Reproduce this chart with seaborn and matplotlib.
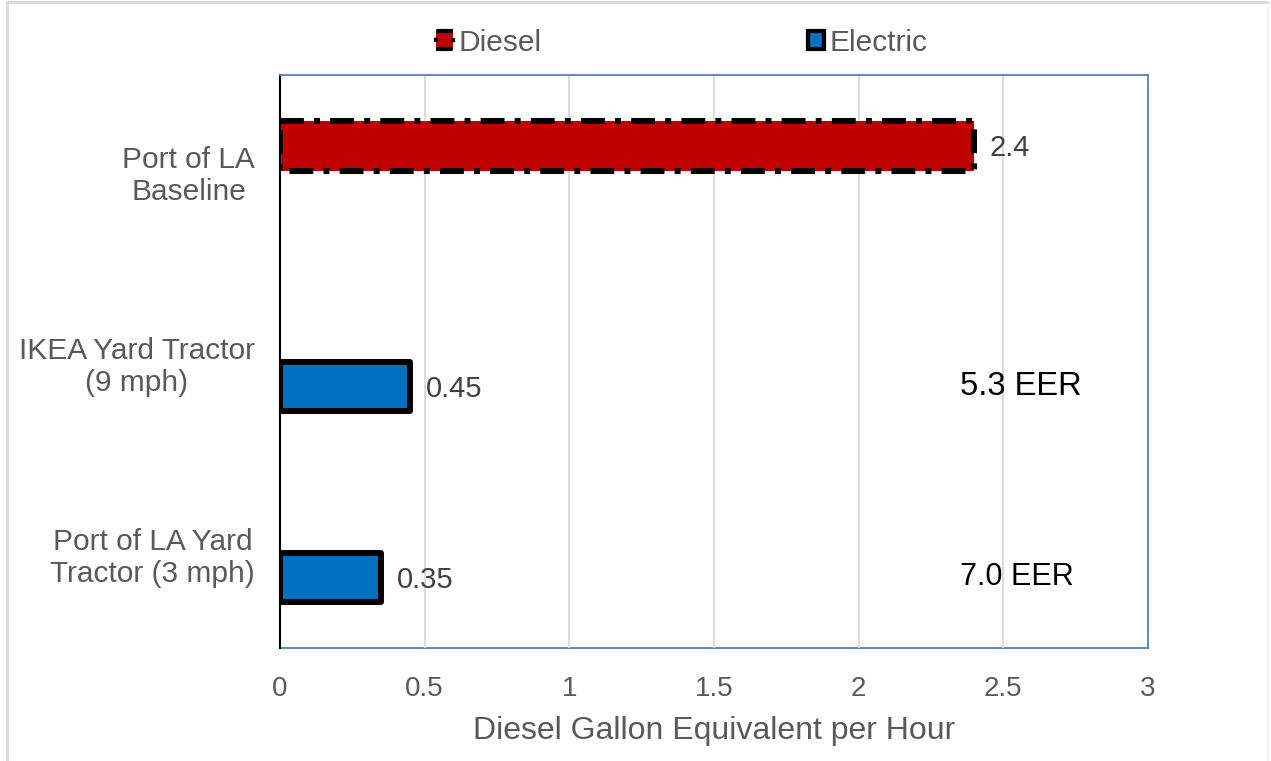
import matplotlib
matplotlib.use("Agg")
import matplotlib.pyplot as plt
import seaborn as sns
import pandas as pd
from matplotlib.patches import Patch
from matplotlib.lines import Line2D

categories = ["Port of LA\nBaseline", "IKEA Yard Tractor\n(9 mph)", "Port of LA Yard\nTractor (3 mph)"]
series = ["Diesel", "Electric", "Electric"]
values = [2.4, 0.45, 0.35]
eer_labels = ["", "5.3 EER", "7.0 EER"]
eer_sizes = [0, 23.5, 22.0]
xticks = [0, 0.5, 1, 1.5, 2, 2.5, 3]
xtick_labels = ["0", "0.5", "1", "1.5", "2", "2.5", "3"]
x_title = "Diesel Gallon Equivalent per Hour"

RED = "#C00000"
BLUE = "#0070C0"
GRAY = "#595959"

sns.set_theme(style="white")
plt.rcParams["font.family"] = ["Liberation Sans", "DejaVu Sans"]

df = pd.DataFrame({"cat": categories, "series": series, "val": values})

fig = plt.figure(figsize=(12.71, 7.61), dpi=100)
ax = fig.add_axes([280/1271, 1-648/761, (1148-280)/1271, (648-75)/761])

sns.barplot(data=df, y="cat", x="val", hue="series", order=categories,
            hue_order=["Diesel", "Electric"], palette={"Diesel": RED, "Electric": BLUE},
            orient="h", width=0.52, dodge=True, legend=False, ax=ax,
            edgecolor="black", linewidth=4.3, saturation=1)

dash = (0, (4, 1.7, 1, 1.7))
for c_i, cont in enumerate(ax.containers):
    for p in cont.patches:
        p.set_joinstyle("round")
        if c_i == 0:
            p.set_linestyle(dash)
    labels = ["%g" % v for v in cont.datavalues]
    anns = ax.bar_label(cont, labels=labels, padding=11, fontsize=21, color="#404040")
    for a in anns:
        x0, y0 = a.xyann
        a.xyann = (x0, y0 - 2)

# EER annotations aligned with electric bars
for i, t in enumerate(eer_labels):
    if t:
        ax.text(2.35, i + 0.13, t, fontsize=eer_sizes[i], color="black", va="center", ha="left")

ax.set_xlim(0, 3)
ax.set_ylim(2.5, -0.5)
ax.set_xticks(xticks)
ax.set_xticklabels(xtick_labels, fontsize=20, color=GRAY)
ax.tick_params(axis="x", length=0, pad=20)
ax.tick_params(axis="y", length=0, pad=18)
for lab in ax.get_yticklabels():
    lab.set_fontsize(21.5)
    lab.set_color(GRAY)
    lab.set_multialignment("center")
ax.set_ylabel("")
ax.set_xlabel(x_title, fontsize=23, color=GRAY, labelpad=10)
ax.grid(axis="x", color="#D9D9D9", linewidth=1.3)
ax.set_axisbelow(True)

for s in ["top", "right", "bottom"]:
    ax.spines[s].set_color("#4F81BD")
    ax.spines[s].set_linewidth(1.3)
ax.spines["left"].set_color("black")
ax.spines["left"].set_linewidth(1.5)
ax.spines["bottom"].set_zorder(0.5)

handles = [
    Patch(facecolor=RED, edgecolor="black", linewidth=3, linestyle=dash, label="Diesel"),
    Patch(facecolor=BLUE, edgecolor="black", linewidth=3, label="Electric"),
]
fig.legend(handles=handles, loc="center", bbox_to_anchor=(682/1271, 1-43/761),
           ncol=2, frameon=False, fontsize=21.5, labelcolor=GRAY,
           handlelength=0.55, handleheight=0.55, handletextpad=0.2, columnspacing=8.9)

# outer chart border
fig.add_artist(Line2D([7/1271, 7/1271], [0, 1-2/761], color="#D9D9D9", linewidth=2, transform=fig.transFigure))
fig.add_artist(Line2D([7/1271, 1268/1271], [1-2/761, 1-2/761], color="#D9D9D9", linewidth=2, transform=fig.transFigure))
fig.add_artist(Line2D([1268/1271, 1268/1271], [0, 1-2/761], color="#EEEEEE", linewidth=1, transform=fig.transFigure))

fig.savefig("out.png", dpi=100)
